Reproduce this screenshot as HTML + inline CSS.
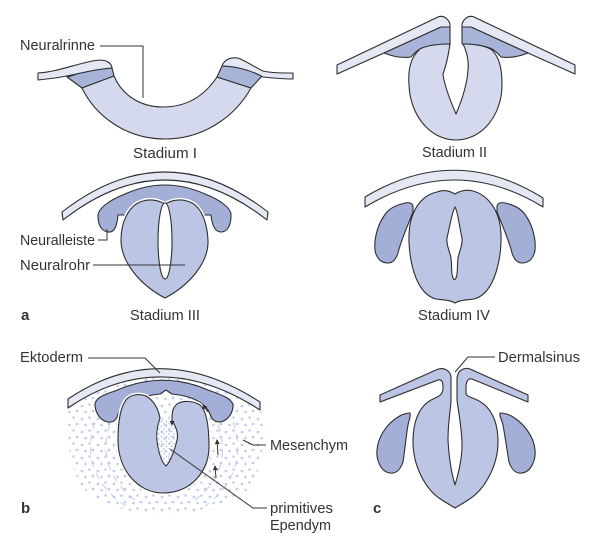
<!DOCTYPE html>
<html>
<head>
<meta charset="utf-8">
<style>
  html,body{margin:0;padding:0;background:#fff;}
  svg{display:block;}
  text{font-family:"Liberation Sans",sans-serif;font-size:14.5px;fill:#333;}
  .b{font-weight:bold;font-size:15px;}
</style>
</head>
<body>
<svg width="600" height="546" viewBox="0 0 600 546" xmlns="http://www.w3.org/2000/svg">
  <defs>
    <pattern id="dots" x="0" y="0" width="16" height="13" patternUnits="userSpaceOnUse">
      <circle cx="2" cy="3" r="1.4" fill="#c3cdeb"/>
      <circle cx="9.5" cy="1.5" r="1.3" fill="#c3cdeb"/>
      <circle cx="13" cy="8" r="1.4" fill="#c3cdeb"/>
      <circle cx="5.5" cy="9" r="1.3" fill="#c3cdeb"/>
    </pattern>
    <pattern id="dots2" x="0" y="0" width="5" height="5" patternUnits="userSpaceOnUse">
      <circle cx="1.5" cy="1.5" r="0.9" fill="#b3c0e4"/>
      <circle cx="4" cy="3.8" r="0.8" fill="#b3c0e4"/>
    </pattern>
    <marker id="ah" viewBox="0 0 6 6" refX="5" refY="3" markerWidth="5" markerHeight="5" orient="auto">
      <path d="M0,0 L6,3 L0,6 Z" fill="#333"/>
    </marker>
  </defs>

  <g stroke="#2e2e2e" stroke-width="1.1" stroke-linejoin="round">
    <!-- ===== Stadium I ===== -->
    <path d="M38,73 C55,72 70,66 88,62 C96,60 104,59 108,62 C111,64 112,66 112,68 C100,69 90,71 81,73 C72,75 62,77 55,78 L38,80 Z" fill="#e4e8f4"/>
    <path d="M67,77 C72,76 76,74 81,73 C90,71 100,69 112,68 L114,76 L82,88 Z" fill="#a8b3d8"/>
    <path d="M82,88 C95,115 125,139 165,139 C205,139 236,115 251,88 L217,77 C205,95 188,107 163,107 C140,107 122,95 114,76 Z" fill="#d4d9ee"/>
    <path d="M217,77 L222,66 C228,66 234,67 239,68 C248,70 256,73 263,75 L251,88 Z" fill="#a8b3d8"/>
    <path d="M222,66 C224,60 230,57 238,58 C248,62 256,68 263,71 C272,73 282,73 293,73 L293,79 C282,79 272,78 263,77 C256,73 248,70 239,68 C234,67 228,66 222,66 Z" fill="#e4e8f4"/>

    <!-- ===== Stadium II ===== -->
    <path d="M337,65 L438,17 C443,15 448,18 450,24 L450,27 L441,27 L384,53 L337,74 Z" fill="#e4e8f4"/>
    <path d="M384,53 L441,27 L450,27 L450,44 C440,44 428,45 420,49 C415,52 412,56 411,57 C404,58 394,57 384,53 Z" fill="#a8b3d8"/>
    <path d="M575,65 L474,17 C469,15 464,18 462,24 L462,27 L471,27 L528,53 L575,74 Z" fill="#e4e8f4"/>
    <path d="M528,53 L471,27 L462,27 L462,44 C472,44 484,45 492,49 C497,52 500,56 501,57 C508,58 518,57 528,53 Z" fill="#a8b3d8"/>
    <path d="M420,49 C410,58 408,70 409,85 C410,115 430,140 456,140 C482,140 502,115 502,85 C502,70 500,58 492,50 C484,45 472,44 463,44 C467,52 469,62 468,70 C467,85 462,100 456,114 C450,100 444,85 443,74 C446,66 448,58 450,44 C440,44 428,45 420,49 Z" fill="#d4d9ee"/>

    <!-- ===== Stadium III ===== -->
    <path d="M62,212 Q165,132 268,212 L267,220 Q165,140 63,220 Z" fill="#e4e8f4"/>
    <path d="M118,215 C117,225 115,233 108,232 C101,231 98,224 98,216 C98,208 110,200 125,194 Q165,176 205,194 C220,200 232,208 231,216 C231,224 228,232 221,232 C215,232 212,225 211,215 Z" fill="#a3afd6"/>
    <path d="M140,202 C150,198 158,200 165,204 C172,200 180,198 190,202 C200,206 207,220 208,240 C209,262 190,285 165,298 C140,285 121,262 121,240 C121,220 130,206 140,202 Z" fill="none" stroke="#fff" stroke-width="4"/>
    <path d="M140,202 C150,198 158,200 165,204 C172,200 180,198 190,202 C200,206 207,220 208,240 C209,262 190,285 165,298 C140,285 121,262 121,240 C121,220 130,206 140,202 Z" fill="#bcc5e4"/>
    <ellipse cx="165" cy="241" rx="7" ry="38" fill="#fff"/>

    <!-- ===== Stadium IV ===== -->
    <path d="M365,197 Q455,143 543,198 L543,207 Q455,153 365,207 Z" fill="#e4e8f4"/>
    <path d="M413,207 C413,203 409,202 405,203 C396,205 388,209 384,216 C377,226 374,240 375,250 C376,258 381,263 388,263 C393,263 396,259 398,253 C401,240 408,225 413,212 Z" fill="#a3afd6"/>
    <path d="M497,207 C497,203 501,202 505,203 C514,205 522,209 526,216 C533,226 536,240 535,250 C534,258 529,263 522,263 C517,263 514,259 512,253 C509,240 502,225 497,212 Z" fill="#a3afd6"/>
    <path d="M437,192 C444,189 450,191 455,194 C460,191 466,189 473,191 C485,194 495,205 499,220 C503,236 501,260 494,278 C489,290 482,297 474,299 C466,300 460,300 455,303 C450,300 444,300 436,299 C428,297 421,290 416,278 C409,260 407,236 411,220 C415,205 425,194 437,192 Z" fill="#bcc5e4"/>
    <path d="M455,207 C458,212 459,225 462,238 C463,245 459,252 458,258 C457,266 458,274 456,278 C455,280 454,280 453,278 C451,274 452,266 451,258 C450,252 446,245 447,238 C450,225 452,212 455,207 Z" fill="#fff"/>
  </g>

  <!-- ===== Panel b ===== -->
  <path d="M68,408 Q160,345 262,412 C266,440 262,470 250,488 C232,507 200,514 165,514 C130,514 100,505 85,490 C70,472 66,440 68,408 Z" fill="url(#dots)"/>
  <g fill="none" stroke="#b8c4e6" stroke-width="1.1" stroke-dasharray="7 6" opacity="0.8">
    <path d="M110,425 C100,450 108,480 135,500"/>
    <path d="M95,422 C84,452 93,485 126,506"/>
    <path d="M218,425 C228,452 222,480 195,500"/>
    <path d="M233,422 C244,452 236,485 205,506"/>
  </g>
  <g stroke="#2e2e2e" stroke-width="1.1" stroke-linejoin="round">
    <path d="M68,399 Q160,337 260,402 L260,410 Q160,345 68,408 Z" fill="#e4e8f4"/>
    <path d="M118,414 C117,419 114,423 108,422 C101,421 96,414 95,406 C94,399 102,395 115,391 Q162,370 208,390 C222,395 234,399 233,407 C232,415 226,422 219,422 C214,422 211,418 210,414 C205,402 192,396 172,394 L166,390 L160,394 C140,396 124,402 118,414 Z" fill="#a3afd6"/>
    <path d="M160,418 C158,408 153,400 146,396 C138,393 130,395 126,400 C120,408 118,422 118,440 C118,470 138,493 163,493 C190,493 209,472 209,447 C209,425 206,410 200,405 C194,401 183,400 177,404 C172,408 172,414 172,420 C175,426 179,432 177,440 C175,450 170,462 166,466 C161,462 158,450 157,440 C156,432 158,424 160,418 Z" fill="none" stroke="#fff" stroke-width="4"/>
    <path d="M160,418 C158,408 153,400 146,396 C138,393 130,395 126,400 C120,408 118,422 118,440 C118,470 138,493 163,493 C190,493 209,472 209,447 C209,425 206,410 200,405 C194,401 183,400 177,404 C172,408 172,414 172,420 C175,426 179,432 177,440 C175,450 170,462 166,466 C161,462 158,450 157,440 C156,432 158,424 160,418 Z" fill="#bcc5e4"/>
  </g>
  <path d="M160,419 C158,425 156,432 157,440 C158,450 161,461 166,465 C170,461 175,450 176,440 C178,432 174,426 172,421 Z" fill="url(#dots2)"/>
  <g stroke="#333" stroke-width="1" fill="none" marker-end="url(#ah)">
    <path d="M216,478 L215,466"/>
    <path d="M218,455 L217,440"/>
    <path d="M208,412 L203,405"/>
    <path d="M172,416 L172,425"/>
  </g>

  <!-- ===== Panel c ===== -->
  <g stroke="#2e2e2e" stroke-width="1.1" stroke-linejoin="round">
    <path d="M380,395 L436,370 C442,367 449,369 451,376 L451,400 C451,408 448,420 448,440 C449,458 452,475 455,485 C458,475 462,458 462,445 C462,430 459,415 457,400 L457,378 C458,370 464,367 470,369 L528,395 L528,402 L472,379 C468,378 466,382 466,387 L466,393 C466,396 470,397 475,399 C490,405 498,420 498,442 C498,465 485,490 468,500 C462,504 458,506 455,508 C452,506 448,504 442,500 C425,490 413,465 413,442 C413,420 420,405 433,399 C440,396 443,394 443,388 C443,382 442,379 438,380 L380,402 Z" fill="#bcc5e4"/>
    <path d="M410,413 C408,413 402,414 398,417 C388,423 378,436 377,450 C376,460 381,472 390,473 C397,474 401,468 403,462 C405,450 406,436 408,425 C409,420 411,416 410,413 Z" fill="#a3afd6"/>
    <path d="M500,413 C503,413 509,414 513,417 C523,423 534,436 535,450 C536,460 531,472 522,473 C515,474 511,468 509,462 C507,450 505,436 503,425 C502,420 499,416 500,413 Z" fill="#a3afd6"/>
  </g>

  <!-- ===== Leader lines ===== -->
  <g stroke="#333" stroke-width="1" fill="none">
    <path d="M100,46 L143,46 L143,98"/>
    <path d="M98,240 L107,240 L107,229"/>
    <path d="M93,265 L185,265"/>
    <path d="M88,358 L145,358 L160,373"/>
    <path d="M266,445 L253,445 L243,440"/>
    <path d="M267,508 L253,508 L170,449"/>
    <path d="M495,357 L468,357 L455,372"/>
  </g>

  <!-- ===== Labels ===== -->
  <text x="20" y="50" textLength="75" lengthAdjust="spacingAndGlyphs">Neuralrinne</text>
  <text x="133" y="158" textLength="64" lengthAdjust="spacingAndGlyphs">Stadium I</text>
  <text x="422" y="157" textLength="65" lengthAdjust="spacingAndGlyphs">Stadium II</text>
  <text x="20" y="245" textLength="75" lengthAdjust="spacingAndGlyphs">Neuralleiste</text>
  <text x="20" y="270" textLength="70" lengthAdjust="spacingAndGlyphs">Neuralrohr</text>
  <text class="b" x="21" y="320">a</text>
  <text x="130" y="320" textLength="70" lengthAdjust="spacingAndGlyphs">Stadium III</text>
  <text x="418" y="320" textLength="72" lengthAdjust="spacingAndGlyphs">Stadium IV</text>
  <text x="20" y="362" textLength="63" lengthAdjust="spacingAndGlyphs">Ektoderm</text>
  <text x="270" y="450" textLength="78" lengthAdjust="spacingAndGlyphs">Mesenchym</text>
  <text x="270" y="513" textLength="63" lengthAdjust="spacingAndGlyphs">primitives</text>
  <text x="270" y="530" textLength="61" lengthAdjust="spacingAndGlyphs">Ependym</text>
  <text class="b" x="21" y="513">b</text>
  <text x="498" y="362" textLength="82" lengthAdjust="spacingAndGlyphs">Dermalsinus</text>
  <text class="b" x="373" y="513">c</text>
</svg>
</body>
</html>
